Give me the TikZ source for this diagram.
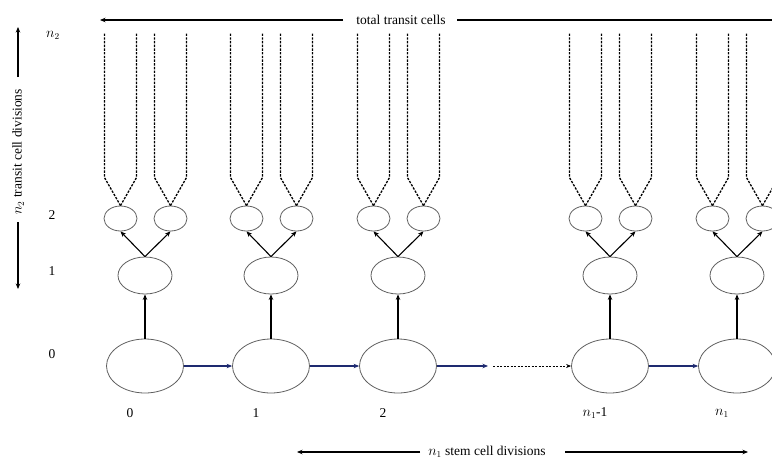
\documentclass[tikz,border=0pt]{standalone}
\usepackage{fontspec}
\setmainfont{Liberation Serif}
\usetikzlibrary{shapes.geometric,arrows.meta}
\definecolor{stemblue}{RGB}{30,42,112}
\definecolor{cellgray}{RGB}{95,95,95}
\begin{document}
\begin{tikzpicture}[x=1pt,y=-1pt,
  cell/.style={draw=cellgray,ellipse,inner sep=0pt,line width=0.8pt},
  stemcell/.style={cell,minimum width=77pt,minimum height=54pt},
  midcell/.style={cell,minimum width=54pt,minimum height=37pt},
  smallcell/.style={cell,minimum width=33pt,minimum height=25pt},
  arr/.style={-{Stealth[length=5.5pt,width=4.5pt]},line width=1.1pt},
  stemarr/.style={arr,draw=stemblue},
  lineage/.style={dashed,dash pattern=on 2.4pt off 1.3pt,line width=1.3pt},
  lbl/.style={font=\fontsize{13.5}{16}\selectfont,inner sep=0pt}]
\useasboundingbox (0,0) rectangle (772,459);
\clip (0,0) rectangle (772,459);
% columns
\foreach \i/\x/\t in {0/145/0, 1/271/1, 2/398/2, 3/610/{$n_1$-1}, 4/737/{$n_1$}}{
  \node[stemcell] (s\i) at (\x,366) {};
  \node[midcell] (m\i) at (\x,275.5) {};
  \node[smallcell] (a\i) at (\x-24.5,218.5) {};
  \node[smallcell] (b\i) at (\x+25.5,218.5) {};
  \node[lbl] (t\i) at (\x-15,413) {\t};
  \draw[arr] (s\i.north) -- (m\i.south);
  \draw[arr] (m\i.north) -- (a\i.south);
  \draw[arr] (m\i.north) -- (b\i.south);
  \foreach \c in {a,b}{
    \draw[lineage] (\c\i.north) -- ++(-16,-28) -- ++(0,-145);
    \draw[lineage] (\c\i.north) -- ++(16,-28) -- ++(0,-145);
  }
}
% stem cell chain
\draw[stemarr] (s0.east) -- (s1.west);
\draw[stemarr] (s1.east) -- (s2.west);
\coordinate (g1) at (488,366);
\coordinate (g2) at (493,366);
\draw[stemarr] (s2.east) -- (g1);
\draw[-{Stealth[length=5pt,width=4pt]},dashed,dash pattern=on 2pt off 1.5pt,line width=0.7pt] (g2) -- (s3.west);
\draw[stemarr] (s3.east) -- (s4.west);
% row labels
\node[lbl] (r2n) at (53,35) {$n_2$};
\node[lbl] (r2) at (52,215) {2};
\node[lbl] (r1) at (52,271) {1};
\node[lbl] (r0) at (52,354) {0};
% left axis
\node[lbl,rotate=90] (ax) at (18,152) {$n_2$ transit cell divisions};
\coordinate (axt0) at (18,77);
\coordinate (axt) at (18,27);
\coordinate (axb0) at (18,222);
\coordinate (axb) at (18,289);
\draw[arr] (axt0) -- (axt);
\draw[arr] (axb0) -- (axb);
% top axis
\node[lbl] (top) at (401,20) {total transit cells};
\coordinate (topl0) at (343,20);
\coordinate (topl) at (100,20);
\coordinate (topr0) at (457,20);
\coordinate (topr) at (780,20);
\draw[arr] (topl0) -- (topl);
\draw[line width=1.1pt] (topr0) -- (topr);
% bottom axis
\node[lbl] (bot) at (487,452) {$n_1$ stem cell divisions};
\coordinate (botl0) at (420,452);
\coordinate (botl) at (297,452);
\coordinate (botr0) at (565,452);
\coordinate (botr) at (748,452);
\draw[arr] (botl0) -- (botl);
\draw[arr] (botr0) -- (botr);
\end{tikzpicture}
\end{document}
